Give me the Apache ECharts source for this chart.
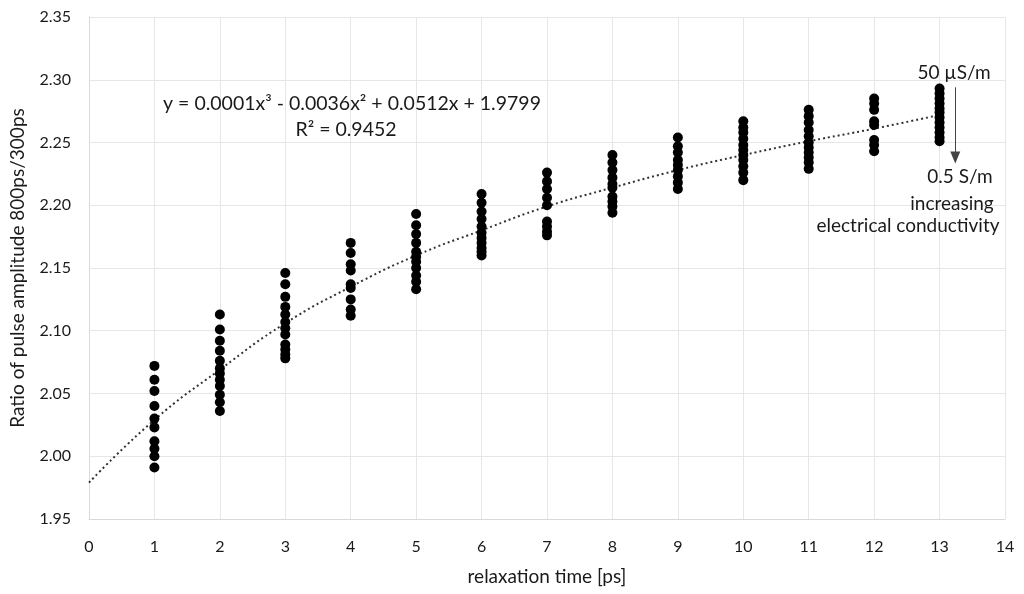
<!DOCTYPE html>
<html><head><meta charset="utf-8">
<script src="https://cdn.jsdelivr.net/npm/echarts@6/dist/echarts.min.js"></script>
<style>html,body{margin:0;padding:0;background:#fff}#c{width:1024px;height:594px}</style>
</head><body><div id="c"></div>
<script>
const xCats = [1,2,3,4,5,6,7,8,9,10,11,12,13];
const y1 = [2.072,2.061,2.052,2.040,2.030,2.023,2.012,2.006,2.000,1.991];
const y2 = [2.113,2.101,2.092,2.084,2.076,2.070,2.066,2.061,2.056,2.049,2.043,2.036];
const y3 = [2.146,2.137,2.127,2.119,2.113,2.107,2.102,2.097,2.089,2.085,2.081,2.078];
const y4 = [2.170,2.162,2.153,2.148,2.137,2.134,2.125,2.117,2.112];
const y5 = [2.193,2.184,2.177,2.170,2.163,2.159,2.155,2.150,2.144,2.139,2.133];
const y6 = [2.209,2.202,2.195,2.189,2.183,2.178,2.174,2.170,2.166,2.163,2.160];
const y7 = [2.226,2.219,2.213,2.206,2.200,2.187,2.183,2.179,2.176];
const y8 = [2.240,2.234,2.228,2.222,2.217,2.214,2.207,2.203,2.199,2.194];
const y9 = [2.254,2.247,2.242,2.236,2.232,2.228,2.223,2.218,2.213];
const y10 = [2.267,2.262,2.258,2.253,2.248,2.244,2.240,2.236,2.231,2.226,2.220];
const y11 = [2.276,2.271,2.266,2.260,2.255,2.250,2.246,2.242,2.238,2.234,2.229];
const y12 = [2.285,2.281,2.276,2.267,2.264,2.252,2.248,2.243];
const y13 = [2.293,2.289,2.285,2.281,2.277,2.274,2.270,2.266,2.262,2.258,2.254,2.251];
const groups = [y1,y2,y3,y4,y5,y6,y7,y8,y9,y10,y11,y12,y13];
const trendX = [0,1,2,3,4,5,6,7,8,9,10,11,12,13];
const trendY = [1.979,2.029,2.069,2.106,2.135,2.160,2.180,2.199,2.214,2.228,2.240,2.251,2.261,2.272];
const xTicks = [0,14,1];
const yTicks = [1.95,2.35,0.05];

const scatterData = [];
groups.forEach((g,i)=>g.forEach(v=>scatterData.push([xCats[i],v])));
const trendData = trendX.map((x,i)=>[x,trendY[i]]);

const FONT = 'Lato, "Open Sans", sans-serif';
const TXT = '#1a1a1a';
function label(text, x, y, size){
  return {type:'text', x:x, y:y, z:10,
    style:{text:text, font:size+'px '+FONT, fill:TXT, align:'center', verticalAlign:'middle',
           textAlign:'center', textVerticalAlign:'middle'}};
}
const chart = echarts.init(document.getElementById('c'), null, {renderer:'canvas'});
chart.setOption({
  animation:false,
  grid:{left:89,right:19,top:17,bottom:75},
  xAxis:{type:'value',min:xTicks[0],max:xTicks[1],interval:xTicks[2],
    name:'relaxation time [ps]',nameLocation:'middle',nameGap:48,
    nameTextStyle:{fontFamily:FONT,fontSize:19,color:TXT},
    axisLine:{show:true,lineStyle:{color:'#d9d9d9'}},axisTick:{show:false},
    axisLabel:{fontFamily:FONT,fontSize:16,color:TXT,margin:20},
    splitLine:{show:true,lineStyle:{color:'#e6e6e6'}}},
  yAxis:{type:'value',min:yTicks[0],max:yTicks[1],interval:yTicks[2],
    name:'Ratio of pulse amplitude 800ps/300ps',nameLocation:'middle',nameGap:62,
    nameTextStyle:{fontFamily:FONT,fontSize:19,color:TXT},
    axisLine:{show:true,lineStyle:{color:'#d9d9d9'}},axisTick:{show:false},
    axisLabel:{fontFamily:FONT,fontSize:16,color:TXT,margin:18,formatter:v=>v.toFixed(2)},
    splitLine:{show:true,lineStyle:{color:'#e6e6e6'}}},
  series:[
    {type:'line',data:trendData,smooth:true,symbol:'none',z:3,
     lineStyle:{color:'#333',width:2,type:[2,3]}},
    {type:'scatter',data:scatterData,symbolSize:10,z:4,itemStyle:{color:'#000',opacity:1},
     markLine:{silent:true,symbol:['none','triangle'],symbolSize:[10,12],
       lineStyle:{color:'#444',width:1,type:'solid'},label:{show:false},
       data:[[{coord:[13.24,2.294]},{coord:[13.24,2.238]}]]}}
  ],
  graphic:[
    label('y = 0.0001x³ - 0.0036x² + 0.0512x + 1.9799', 352, 104, 19.5),
    label('R² = 0.9452', 346, 130, 19.5),
    label('50 µS/m', 954, 73, 19),
    label('0.5 S/m', 960, 177, 19),
    label('increasing', 952, 204, 19),
    label('electrical conductivity', 908, 226, 19)
  ]
});
</script></body></html>
